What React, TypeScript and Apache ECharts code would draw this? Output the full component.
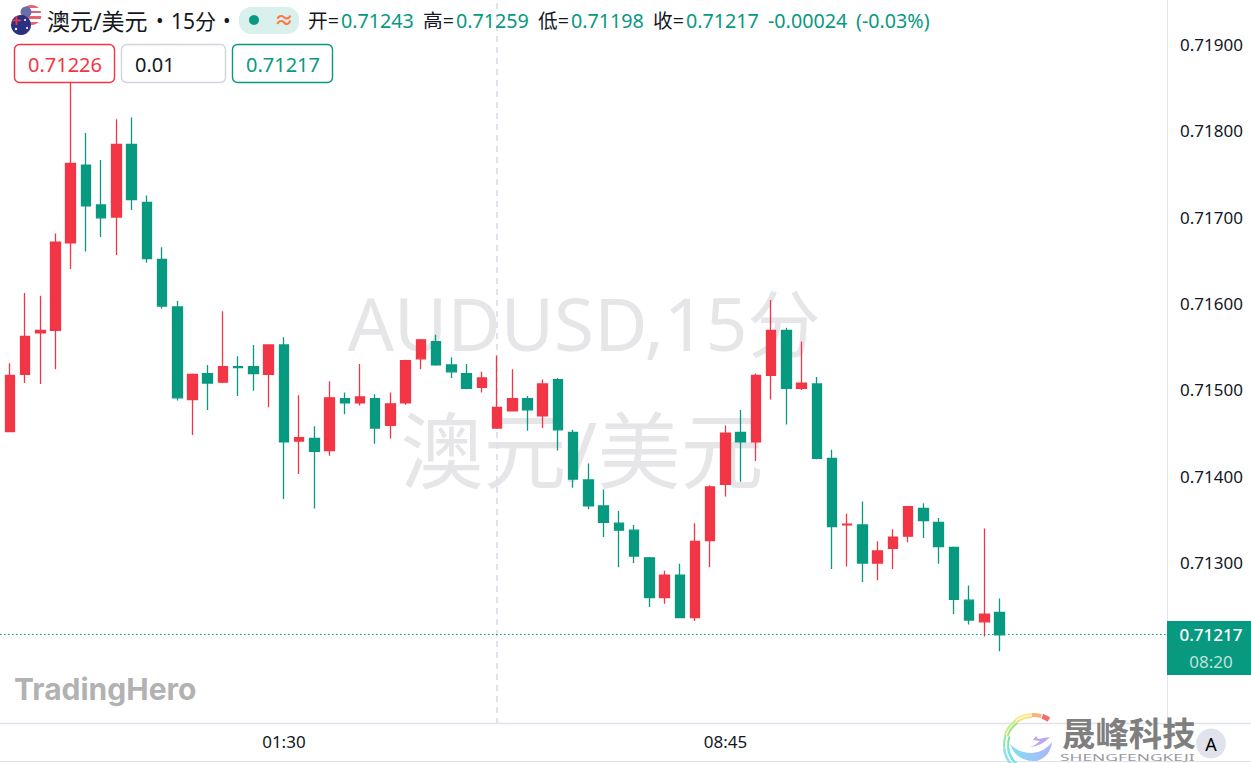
import React, { useEffect, useRef } from "react";
import * as echarts from "echarts";

const categories = [
  "21:00","21:15","21:30","21:45","22:00","22:15","22:30","22:45","23:00","23:15","23:30","23:45",
  "00:00","00:15","00:30","00:45","01:00","01:15","01:30","01:45","02:00","02:15","02:30","02:45",
  "03:00","03:15","03:30","03:45","04:00","04:15","04:30","04:45","05:00","05:15","05:30","05:45",
  "06:00","06:15","06:30","06:45","07:00","07:15","07:30","07:45","08:00","08:15","08:30","08:45",
  "09:00","09:15","09:30","09:45","10:00","10:15","10:30","10:45","11:00","11:15","11:30","11:45",
  "12:00","12:15","12:30","12:45","13:00","13:15","13:30","13:45","14:00","14:15","14:30","14:45",
  "15:00","15:15","15:30","15:45","16:00",
];
const opens = [
  0.71452,0.71518,0.71566,0.71569,0.7167,0.7176,0.71714,0.717,0.71784,0.71717,
  0.71651,0.71596,0.71489,0.71519,0.71509,0.71527,0.71527,0.71518,0.71552,0.71441,
  0.71444,0.7143,0.7149,0.71485,0.7149,0.71459,0.71485,0.71536,0.71556,0.71529,
  0.71519,0.71503,0.71456,0.71476,0.7149,0.7147,0.71512,0.71451,0.71396,0.71366,
  0.71346,0.71338,0.71306,0.7126,0.71286,0.71237,0.71326,0.71391,0.71451,0.7144,
  0.71517,0.71569,0.71502,0.71507,0.71421,0.71344,0.71344,0.713,0.71317,0.71331,
  0.71363,0.71347,0.71318,0.71257,0.71232,0.71243,
];
const closes = [
  0.71517,0.71562,0.71569,0.71671,0.71762,0.71713,0.71699,0.71784,0.7172,0.71652,
  0.71597,0.71491,0.71518,0.71508,0.71527,0.71526,0.71519,0.71552,0.7144,0.71445,
  0.71429,0.71491,0.71485,0.71492,0.71456,0.71484,0.71534,0.71558,0.71529,0.71521,
  0.71502,0.71514,0.7148,0.7149,0.71477,0.71507,0.71454,0.71397,0.71366,0.71347,
  0.71338,0.71308,0.7126,0.71286,0.71237,0.71325,0.71388,0.7145,0.7144,0.71517,
  0.71569,0.71502,0.71508,0.71421,0.71342,0.71345,0.713,0.71314,0.7133,0.71365,
  0.71349,0.71319,0.71258,0.71234,0.71241,0.71217,
];
const lows = [
  0.71452,0.71508,0.71507,0.71524,0.7164,0.7166,0.71677,0.71656,0.71708,0.71647,
  0.71594,0.71488,0.71448,0.71477,0.71508,0.71493,0.71499,0.7148,0.71374,0.71403,
  0.71363,0.71424,0.71472,0.71482,0.71438,0.71444,0.71483,0.71524,0.71528,0.71514,
  0.71501,0.71497,0.71455,0.71475,0.71453,0.71456,0.7143,0.71387,0.71362,0.7133,
  0.71295,0.713,0.71249,0.71253,0.71236,0.71233,0.71295,0.71377,0.71394,0.71418,
  0.71489,0.7146,0.715,0.7142,0.71293,0.71296,0.71278,0.7128,0.71293,0.71324,
  0.71329,0.71299,0.71241,0.71229,0.71215,0.71198,
];
const highs = [
  0.71531,0.71612,0.71609,0.71681,0.71875,0.71797,0.71766,0.71813,0.71815,0.71725,
  0.71665,0.71603,0.71519,0.71529,0.71591,0.71539,0.71552,0.71553,0.71561,0.71494,
  0.71458,0.7151,0.71497,0.7153,0.71495,0.71497,0.71535,0.71559,0.71564,0.71538,
  0.7153,0.71521,0.7154,0.71524,0.71493,0.71512,0.71514,0.71454,0.71415,0.71385,
  0.7136,0.71344,0.71307,0.71291,0.71299,0.71346,0.7139,0.71459,0.71477,0.71519,
  0.71604,0.71572,0.71556,0.71515,0.71431,0.71357,0.71371,0.71325,0.71339,0.71366,
  0.71369,0.71352,0.71319,0.71274,0.7134,0.71259,
];
const priceTicks = [0.713, 0.714, 0.715, 0.716, 0.717, 0.718, 0.719];
const timeTicks = ["01:30", "08:45"];
const sessionBreak = "05:00";
const lastPrice = 0.71217;

const GREEN = "#089981";
const RED = "#F23645";
const INK = "#131722";
const RULE = "#E0E3EB";
const FONT = '"Noto Sans","Noto Sans CJK SC",sans-serif';

echarts.graphic.registerShape(
  "logoBlue",
  echarts.graphic.extendPath("M1010,744 Q1016,762 1037,761 Q1050,757 1052,742 Q1045,752 1032,753 Q1018,753 1010,744 Z", {})
);
echarts.graphic.registerShape(
  "logoBoat",
  echarts.graphic.extendPath("M1030,747 Q1042,746 1050,737 L1038,739 L1036,736 L1033,740 L1040,741 Q1036,745 1030,747 Z", {})
);

function txt(text: string, x: number, y: number, size: number, fill: string, extra: any = {}) {
  return {
    type: "text",
    z: 100,
    style: { text, x, y, fill, fontSize: size, fontFamily: FONT, verticalAlign: "middle", align: "left", ...extra },
  };
}
function box(x: number, y: number, width: number, height: number, stroke: string, text: string, color: string, textX: number) {
  return [
    { type: "rect", z: 99, shape: { x, y, width, height, r: 5 }, style: { fill: "#fff", stroke, lineWidth: 1.4 } },
    txt(text, textX, y + height / 2 + 1, 20, color),
  ];
}
function arc(r: number, a: number, b: number, color: string, w = 2) {
  const rad = Math.PI / 180;
  return {
    type: "arc",
    z: 101,
    shape: { cx: 1033, cy: 745, r, startAngle: a * rad, endAngle: b * rad, clockwise: true },
    style: { stroke: color, lineWidth: w, fill: "none" },
  };
}

function chrome(lineY: number) {
  return [
    // watermarks below the candles
    { type: "text", z: -1, style: { text: "AUDUSD,15分", x: 584, y: 322, fill: "#E6E6E9", fontSize: 73, fontFamily: FONT, align: "center", verticalAlign: "middle" } },
    { type: "text", z: -1, style: { text: "澳元/美元", x: 582, y: 449, fill: "#E6E6E9", fontSize: 83, fontFamily: FONT, align: "center", verticalAlign: "middle" } },
    // frame rules
    { type: "line", z: 1, shape: { x1: 0, y1: 723.5, x2: 1251, y2: 723.5 }, style: { stroke: RULE, lineWidth: 1.5 } },
    { type: "line", z: 1, shape: { x1: 0, y1: 761.5, x2: 1251, y2: 761.5 }, style: { stroke: RULE, lineWidth: 1 } },
    // last price line
    { type: "line", z: 50, shape: { x1: 0, y1: lineY, x2: 1167, y2: lineY }, style: { stroke: GREEN, lineWidth: 1.2, lineDash: [1.5, 2.5] } },
    { type: "rect", z: 60, shape: { x: 1167, y: 621, width: 84, height: 54 }, style: { fill: GREEN } },
    { type: "line", z: 61, shape: { x1: 1167, y1: 648, x2: 1251, y2: 648 }, style: { stroke: "#1E8F7C", lineWidth: 1 } },
    txt("0.71217", 1211, 634, 17, "#fff", { align: "center", fontWeight: 500 }),
    txt("08:20", 1211, 661, 17, "#BFE3DC", { align: "center" }),
    // flags
    {
      type: "circle", z: 100, shape: { cx: 31.5, cy: 15, r: 10 },
      style: {
        fill: {
          type: "linear", x: 0, y: 0, x2: 0, y2: 1,
          colorStops: [
            { offset: 0, color: "#E5656F" }, { offset: 0.14, color: "#E5656F" }, { offset: 0.14, color: "#fff" }, { offset: 0.28, color: "#fff" },
            { offset: 0.28, color: "#E5656F" }, { offset: 0.42, color: "#E5656F" }, { offset: 0.42, color: "#fff" }, { offset: 0.56, color: "#fff" },
            { offset: 0.56, color: "#E5656F" }, { offset: 0.7, color: "#E5656F" }, { offset: 0.7, color: "#fff" }, { offset: 0.84, color: "#fff" },
            { offset: 0.84, color: "#E5656F" }, { offset: 1, color: "#E5656F" },
          ],
        },
      },
    },
    { type: "circle", z: 100, shape: { cx: 26, cy: 12, r: 5.5 }, style: { fill: "#6A6FA8" } },
    { type: "circle", z: 101, shape: { cx: 21, cy: 25, r: 10 }, style: { fill: "#2B2F7F" } },
    { type: "rect", z: 102, shape: { x: 12, y: 19.5, width: 9, height: 1.8 }, style: { fill: "#E5394A" } },
    { type: "rect", z: 102, shape: { x: 15.5, y: 16, width: 1.8, height: 9 }, style: { fill: "#E5394A" } },
    { type: "circle", z: 102, shape: { cx: 16, cy: 29, r: 1.2 }, style: { fill: "#fff" } },
    { type: "circle", z: 102, shape: { cx: 25, cy: 20, r: 1 }, style: { fill: "#fff" } },
    { type: "circle", z: 102, shape: { cx: 27, cy: 28, r: 1 }, style: { fill: "#fff" } },
    // title row
    txt("澳元/美元", 47, 20.5, 23, INK),
    txt("•", 156, 20.5, 20, INK),
    txt("15分", 171, 20.5, 21, INK),
    txt("•", 223, 20.5, 20, INK),
    { type: "rect", z: 99, shape: { x: 239, y: 7, width: 60, height: 27, r: 12 }, style: { fill: "#DAF0EC" } },
    { type: "circle", z: 100, shape: { cx: 254, cy: 20, r: 5 }, style: { fill: GREEN } },
    txt("≈", 284, 20, 20, "#FF7A45", { align: "center", fontWeight: 700 }),
    txt("开=", 308, 20.5, 19.7, INK),
    txt("0.71243", 341, 20.5, 19.7, GREEN),
    txt("高=", 423, 20.5, 19.7, INK),
    txt("0.71259", 456, 20.5, 19.7, GREEN),
    txt("低=", 538, 20.5, 19.7, INK),
    txt("0.71198", 571, 20.5, 19.7, GREEN),
    txt("收=", 653, 20.5, 19.7, INK),
    txt("0.71217", 686, 20.5, 19.7, GREEN),
    txt("-0.00024", 768, 20.5, 19.7, GREEN),
    txt("(-0.03%)", 856, 20.5, 19.7, GREEN),
    // quote boxes
    ...box(14.5, 44.5, 100, 38, RED, "0.71226", RED, 28),
    ...box(121.5, 44.5, 104, 38, "#D1D4DC", "0.01", INK, 135),
    ...box(232.5, 44.5, 100, 38, GREEN, "0.71217", GREEN, 246),
    // brand marks
    txt("TradingHero", 14, 689, 30, "#B2B2B2", { fontWeight: 700, fontFamily: '"Inter",sans-serif' }),
    // swirl logo
    arc(30, -72, -58, "#F46E6E", 5),
    arc(30, -92, -74, "#F9B27C", 4),
    arc(28, -125, -92, "#F9DE7C", 2),
    arc(31, -125, -92, "#FBE98F", 2),
    arc(27, -160, -125, "#A6E37F", 2),
    arc(30, -160, -125, "#C8EC85", 2),
    arc(25, 175, 200, "#7FE3A8", 2),
    arc(29, 175, 200, "#8EE8A0", 2),
    arc(25, 130, 175, "#7FDCEB", 2.5),
    arc(29, 130, 175, "#8BE3F2", 2.5),
    { type: "logoBlue", z: 101, x: 0, y: 0, style: { fill: { type: "linear", x: 0, y: 0, x2: 1, y2: 0, colorStops: [{ offset: 0, color: "#7FE0F5" }, { offset: 1, color: "#B0B4F5" }] } } },
    { type: "logoBoat", z: 101, x: 0, y: 0, style: { fill: "#BBA6F2" } },
    txt("晟峰科技", 1062, 733, 33.4, "#7F7F7F", { fontWeight: 700 }),
    { type: "text", z: 101, x: 1060, y: 757.5, scaleX: 2.05, style: { text: "SHENGFENGKEJI", x: 0, y: 0, fill: "#9A9A9A", fontSize: 8.5, fontFamily: FONT, verticalAlign: "middle" } },
    { type: "circle", z: 102, shape: { cx: 1211, cy: 743.5, r: 15 }, style: { fill: "#E0E3EB" } },
    { type: "text", z: 103, style: { text: "A", x: 1211, y: 744, fill: "#000", fontSize: 18, fontFamily: FONT, align: "center", verticalAlign: "middle" } },
  ];
}

export default function App() {
  const ref = useRef<HTMLDivElement>(null);
  useEffect(() => {
    const chart = echarts.init(ref.current!, undefined, { renderer: "svg" });
    const option: any = {
      animation: false,
      backgroundColor: "#fff",
      grid: { left: 9.8, right: 84, top: 0, height: 724 },
      xAxis: {
        type: "category",
        data: categories,
        boundaryGap: false,
        axisLine: { show: false },
        axisTick: { show: false },
        splitLine: { show: false },
        axisLabel: {
          color: INK,
          fontSize: 17,
          fontFamily: FONT,
          margin: 9,
          interval: (_: number, v: string) => timeTicks.includes(v),
        },
      },
      yAxis: {
        type: "value",
        position: "right",
        min: 0.7111387,
        max: 0.7195087,
        scale: true,
        axisLine: { show: true, lineStyle: { color: RULE, width: 1 } },
        axisTick: { show: false },
        splitLine: { show: false },
        axisLabel: {
          color: INK,
          fontSize: 17,
          fontFamily: FONT,
          margin: 13,
          customValues: priceTicks,
          formatter: (v: number) => v.toFixed(5),
        },
      },
      series: [
        {
          type: "candlestick",
          clip: false,
          barWidth: 10,
          data: opens.map((o, i) => [o, closes[i], lows[i], highs[i]]),
          itemStyle: { color: RED, color0: GREEN, borderColor: RED, borderColor0: GREEN, borderWidth: 1.3 },
          markLine: {
            silent: true,
            symbol: "none",
            z: 1,
            label: { show: false },
            lineStyle: { color: RULE, type: [6, 5], width: 2 },
            data: [{ xAxis: sessionBreak }],
          },
        },
      ],
    };
    chart.setOption(option);
    const lineY = Math.floor(chart.convertToPixel({ yAxisIndex: 0 }, lastPrice)) + 0.5;
    chart.setOption({ graphic: { elements: chrome(lineY) } });
    return () => chart.dispose();
  }, []);
  return <div ref={ref} style={{ position: "fixed", left: 0, top: 0, width: 1251, height: 763 }} />;
}
